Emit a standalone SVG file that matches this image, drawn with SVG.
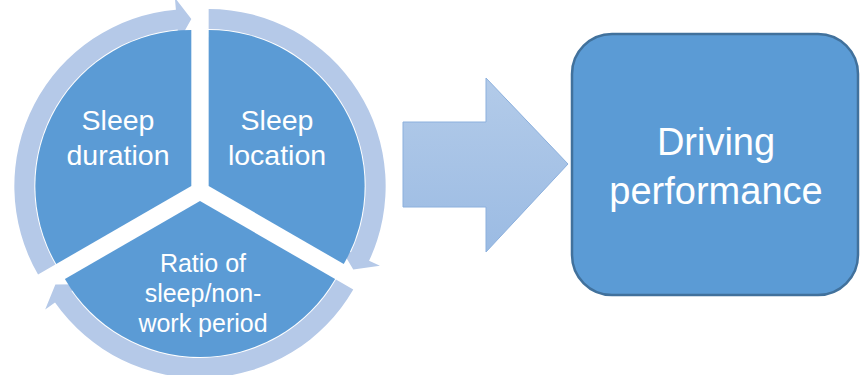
<svg xmlns="http://www.w3.org/2000/svg" width="860" height="375" viewBox="0 0 860 375">
  <defs>
    <linearGradient id="blockFill" x1="0" y1="0" x2="0" y2="1">
      <stop offset="0" stop-color="#B3CBE9"/>
      <stop offset="1" stop-color="#9BBBE3"/>
    </linearGradient>
  </defs>
  <style>
    .seg { fill: #5B9BD5; }
    .ring { fill: #B5C9E8; }
    .box { fill: #5B9BD5; stroke: #41719C; stroke-width: 2.5; }
    .label { fill: #FFFFFF; font-family: "Liberation Sans", Arial, sans-serif; text-anchor: middle; }
    .big { font-size: 38px; }
    .mid { font-size: 28.5px; }
    .small { font-size: 25px; }
  </style>

  <!-- curved arrows running clockwise round the segmented circle -->
  <g id="cycle-arrows">
    <path class="ring" d="M 38.06 274.5 A 177 177 0 0 1 175.91 9.67 L 174.87 -2.28 L 191.34 19 L 178.7 41.55 L 177.66 29.6 A 157 157 0 0 0 55.38 264.5 Z"/>
    <path class="ring" d="M 208.66 9 A 177 177 0 0 1 369.08 260.8 L 379.95 265.87 L 353.28 269.5 L 340.07 247.28 L 350.95 252.35 A 157 157 0 0 0 208.66 29 Z"/>
    <path class="ring" d="M 353.28 289.5 A 177 177 0 0 1 55.01 302.52 L 45.18 309.41 L 55.38 284.5 L 81.22 284.17 L 71.39 291.05 A 157 157 0 0 0 335.96 279.5 Z"/>
  </g>

  <g id="sleep-duration">
    <path class="seg" d="M 191.34 186 L 56.24 264 A 156 156 0 0 1 191.34 30 Z"/>
    <text class="label mid" x="118" y="130">Sleep</text>
    <text class="label mid" x="118" y="165">duration</text>
  </g>

  <g id="sleep-location">
    <path class="seg" d="M 208.66 186 L 208.66 30 A 156 156 0 0 1 343.76 264 Z"/>
    <text class="label mid" x="277" y="130">Sleep</text>
    <text class="label mid" x="277" y="165">location</text>
  </g>

  <g id="sleep-ratio">
    <path class="seg" d="M 200 201 L 335.1 279 A 156 156 0 0 1 64.9 279 Z"/>
    <text class="label small" x="203" y="272">Ratio of</text>
    <text class="label small" x="203" y="302">sleep/non-</text>
    <text class="label small" x="203" y="332">work period</text>
  </g>

  <g id="connectors">
    <polygon fill="url(#blockFill)" stroke="#8CB0DD" stroke-width="1" points="403,122 486,122 486,78 568,164 486,252 486,207 403,207"/>
  </g>

  <g id="driving-performance">
    <rect class="box" x="572" y="34" width="286" height="261" rx="40" ry="40"/>
    <text class="label big" x="716" y="155">Driving</text>
    <text class="label big" x="716" y="204">performance</text>
  </g>
</svg>
